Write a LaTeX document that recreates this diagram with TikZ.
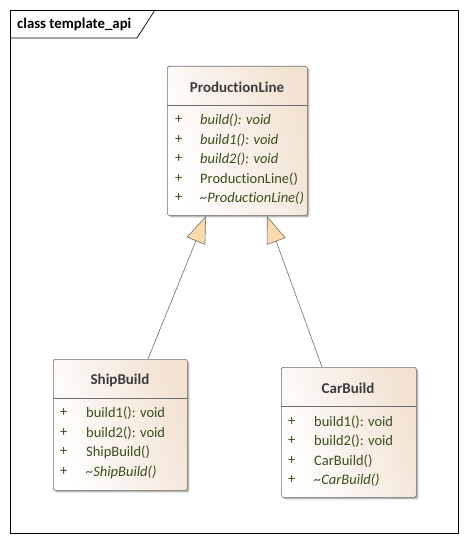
\documentclass[tikz,border=0pt]{standalone}
\usepackage{fontspec}
\setmainfont[Ligatures={NoCommon}]{Carlito}
\usetikzlibrary{arrows.meta,shadows}
\definecolor{memb}{RGB}{58,78,30}
\definecolor{hdr}{RGB}{60,60,60}
\definecolor{beige}{RGB}{242,226,210}
\definecolor{tri}{RGB}{250,218,170}
\definecolor{edge}{RGB}{110,110,110}
\tikzset{
  classbox/.style={draw=edge, line width=0.7pt, rounded corners=1.5pt, anchor=north west,
    left color=white, right color=beige, shading angle=110,
    drop shadow={shadow xshift=2pt, shadow yshift=-2pt, fill=black!45, opacity=0.6}},
  hdrtext/.style={font=\fontsize{15}{17}\selectfont\bfseries, text=hdr},
  mtext/.style={font=\fontsize{14.5}{17}\selectfont, text=memb, anchor=west, inner sep=0pt},
  gen/.style={draw=edge, line width=0.6pt, -{Triangle[length=27pt, width=20pt, fill=tri]}},
}
\begin{document}
\begin{tikzpicture}[x=1pt,y=-1pt]
\useasboundingbox (0,0) rectangle (468,543);
% frame
\draw[black, line width=0.7pt] (10,10) rectangle (458,533);
\draw[black, line width=0.7pt] (10,38) -- (137,38) -- (155,10);
\node[font=\fontsize{14.8}{17}\selectfont\bfseries, anchor=west, inner sep=0pt] (title) at (17,24) {class template\_api};

% ProductionLine
\node[classbox, minimum width=140pt, minimum height=149pt] (pl) at (167,66) {};
\draw[edge, line width=0.6pt] (167,105) -- (307,105);
\node[hdrtext] (plh) at (237,87) {ProductionLine};
\node[mtext] (p1a) at (175,120) {+};
\node[mtext] (p1) at (200,120) {\itshape build(): void};
\node[mtext] (p2a) at (175,140) {+};
\node[mtext] (p2) at (200,140) {\itshape build1(): void};
\node[mtext] (p3a) at (175,159) {+};
\node[mtext] (p3) at (200,159) {\itshape build2(): void};
\node[mtext] (p4a) at (175,179) {+};
\node[mtext] (p4) at (200,179) {ProductionLine()};
\node[mtext] (p5a) at (175,198) {+};
\node[mtext] (p5) at (200,198) {\itshape \textasciitilde ProductionLine()};

% ShipBuild
\node[classbox, minimum width=134pt, minimum height=131pt] (sb) at (53,359) {};
\draw[edge, line width=0.6pt] (53,398) -- (187,398);
\node[hdrtext] (sbh) at (120,380) {ShipBuild};
\node[mtext] (s1a) at (60,413) {+};
\node[mtext] (s1) at (86,413) {build1(): void};
\node[mtext] (s2a) at (60,433) {+};
\node[mtext] (s2) at (86,433) {build2(): void};
\node[mtext] (s3a) at (60,452) {+};
\node[mtext] (s3) at (86,452) {ShipBuild()};
\node[mtext] (s4a) at (60,472) {+};
\node[mtext] (s4) at (86,472) {\itshape \textasciitilde ShipBuild()};

% CarBuild
\node[classbox, minimum width=135pt, minimum height=130pt] (cb) at (281,367) {};
\draw[edge, line width=0.6pt] (281,406) -- (416,406);
\node[hdrtext] (cbh) at (348,388) {CarBuild};
\node[mtext] (c1a) at (288,422) {+};
\node[mtext] (c1) at (314,422) {build1(): void};
\node[mtext] (c2a) at (288,441) {+};
\node[mtext] (c2) at (314,441) {build2(): void};
\node[mtext] (c3a) at (288,461) {+};
\node[mtext] (c3) at (314,461) {CarBuild()};
\node[mtext] (c4a) at (288,480) {+};
\node[mtext] (c4) at (314,480) {\itshape \textasciitilde CarBuild()};

% generalizations
\coordinate (sbtop) at (148,359);
\coordinate (cbtop) at (322,367);
\coordinate (pltipL) at (206,216);
\coordinate (pltipR) at (267,216);
\draw[gen] (sbtop) -- (pltipL);
\draw[gen] (cbtop) -- (pltipR);
\end{tikzpicture}
\end{document}
